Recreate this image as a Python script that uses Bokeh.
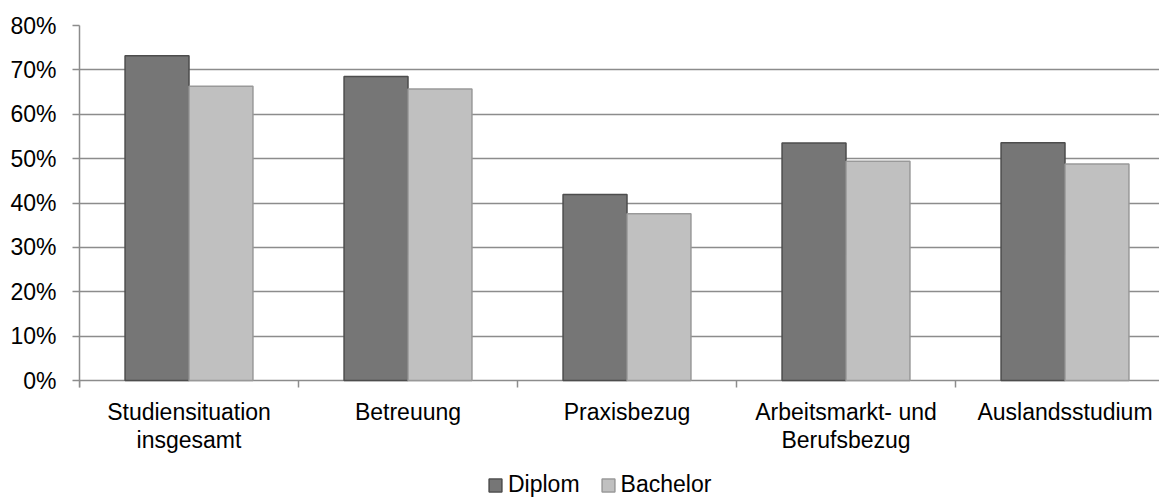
from bokeh.plotting import figure
from bokeh.models import Range1d, FixedTicker, Legend, LegendItem, ColumnDataSource
from bokeh.core.properties import value
from bokeh.embed import file_html
from bokeh.resources import INLINE

categories = ["Studiensituation\ninsgesamt", "Betreuung", "Praxisbezug",
              "Arbeitsmarkt- und\nBerufsbezug", "Auslandsstudium"]
diplom = [73.2, 68.5, 41.9, 53.5, 53.6]
bachelor = [66.3, 65.7, 37.6, 49.4, 48.8]
y_ticks = [0, 10, 20, 30, 40, 50, 60, 70, 80]

FONT = "Liberation Sans"
FS = "23px"
bw = 0.292
n = len(categories)
centers = [i + 0.5 for i in range(n)]

# layout: plot area 0%..80% spans 355 px; frame extends down to the window bottom
FRAME_TOP, ZERO_PX, BOTTOM_PX = 25, 380, 498
px_per_unit = (ZERO_PX - FRAME_TOP) / 80.0
y_start = -(BOTTOM_PX - ZERO_PX) / px_per_unit
tick_len = 7 / px_per_unit

p = figure(frame_width=1080, frame_height=BOTTOM_PX - FRAME_TOP,
           output_backend="svg", toolbar_location=None,
           x_range=Range1d(0, (1159 - 79) / 219.0), y_range=Range1d(y_start, 80),
           min_border_left=79, min_border_right=0, min_border_top=FRAME_TOP,
           min_border_bottom=0)
p.outline_line_color = None
p.background_fill_color = "white"
p.border_fill_color = "white"
p.xaxis.visible = False
p.xgrid.grid_line_color = None

p.ygrid.ticker = FixedTicker(ticks=y_ticks)
p.ygrid.grid_line_color = "#8c8c8c"
p.ygrid.grid_line_width = 1.5

r1 = p.vbar(x=[c - bw / 2 for c in centers], top=diplom, width=bw,
            fill_color="#767676", line_color="#4d4d4d", line_width=1.5)
r2 = p.vbar(x=[c + bw / 2 for c in centers], top=bachelor, width=bw,
            fill_color="#c0c0c0", line_color="#999999", line_width=1.5)

# category boundary ticks below the 0% line
bounds_x = list(range(n))
p.segment(x0=bounds_x, y0=[0] * n, x1=bounds_x, y1=[-tick_len] * n,
          line_color="#8c8c8c", line_width=1.5)

# category labels
p.text(x=centers, y=[-18 / px_per_unit] * n, text=categories,
       text_font=value(FONT), text_font_size=FS, text_color="black",
       text_align="center", text_baseline="top", text_line_height=1.08)

# y axis
p.yaxis.bounds = (-tick_len, 80)
p.yaxis.ticker = FixedTicker(ticks=y_ticks)
p.yaxis.major_label_overrides = {v: f"{v}%" for v in y_ticks}
p.yaxis.major_label_text_font = FONT
p.yaxis.major_label_text_font_size = FS
p.yaxis.major_label_text_color = "black"
p.yaxis.major_label_standoff = 16
p.yaxis.major_tick_out = 7
p.yaxis.major_tick_in = 0
p.yaxis.minor_tick_line_color = None
p.yaxis.axis_line_color = "#8c8c8c"
p.yaxis.major_tick_line_color = "#8c8c8c"
p.yaxis.axis_line_width = 1.5
p.yaxis.major_tick_line_width = 1.5

legend = Legend(items=[LegendItem(label="Diplom", renderers=[r1]),
                       LegendItem(label="Bachelor", renderers=[r2])],
                orientation="horizontal", location=(408, 0),
                label_text_font=FONT, label_text_font_size=FS, label_text_color="black",
                glyph_width=16, glyph_height=16, label_standoff=5, spacing=20,
                padding=0, margin=0, border_line_color=None,
                background_fill_alpha=0)
p.add_layout(legend, "center")

open("out.html", "w").write(file_html(p, INLINE))
